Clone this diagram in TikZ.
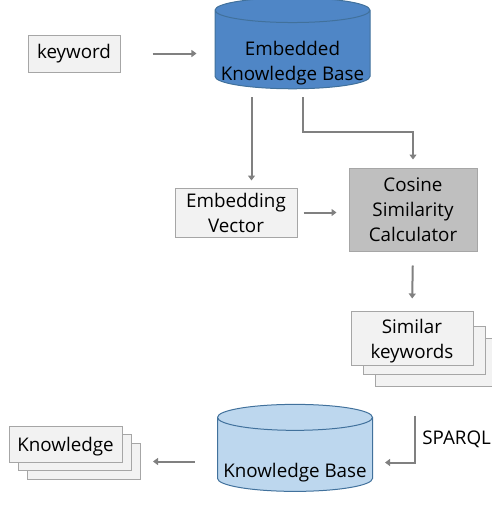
\documentclass[tikz,border=0pt]{standalone}
\usepackage{fontspec}
\setmainfont{Open Sans}
\usetikzlibrary{arrows.meta,shapes.geometric}

\definecolor{boxfill}{HTML}{F2F2F2}
\definecolor{boxline}{HTML}{A6A6A6}
\definecolor{calcfill}{HTML}{BFBFBF}
\definecolor{arrowgray}{HTML}{808080}
\definecolor{ekbfill}{HTML}{4F86C6}
\definecolor{kbfill}{HTML}{BDD7EE}
\definecolor{dbline}{HTML}{41719C}

\begin{document}
\begin{tikzpicture}[x=1pt, y=-1pt,
        font=\fontsize{18.8}{25}\selectfont,
        box/.style={rectangle, draw=boxline, fill=boxfill, line width=1pt, align=center, inner sep=2pt},
        db/.style={cylinder, shape border rotate=90, draw=dbline, line width=1pt, minimum width=155pt},
        arr/.style={draw=arrowgray, line width=2pt, -{Triangle[width=7pt,length=5pt]}}]
    \useasboundingbox (0,0) rectangle (491,507);
    % top row
    \node[box, minimum width=92pt, minimum height=37pt] (kw) at (74,53.5) {keyword};
    \node[db, fill=ekbfill, aspect=0.165, minimum height=91pt] (ekb) at (292.5,51.5)
        {\raisebox{-11pt}[\height][\depth]{\begin{tabular}{@{}c@{}}Embedded\\Knowledge Base\end{tabular}}};
    % middle row
    \node[box, minimum width=122pt, minimum height=49pt] (ev) at (236,212.5) {Embedding\\Vector};
    \node[box, fill=calcfill, minimum width=128pt, minimum height=83pt] (csc) at (413,209.5) {Cosine\\Similarity\\Calculator};
    % similar keywords (stacked)
    \node[box, minimum width=122pt, minimum height=48pt] (sim3) at (436,362) {};
    \node[box, minimum width=122pt, minimum height=48pt] (sim2) at (424,350) {};
    \node[box, minimum width=122pt, minimum height=48pt] (sim) at (412,338)
        {\raisebox{-3pt}[\height][\depth]{\begin{tabular}{@{}c@{}}Similar\\keywords\end{tabular}}};
    % bottom row
    \node[db, fill=kbfill, aspect=0.173, minimum height=87pt] (kb) at (295,456.5)
        {\raisebox{-16pt}[\height][\depth]{Knowledge Base}};
    \node[box, minimum width=113pt, minimum height=36pt] (know3) at (84,461.5) {};
    \node[box, minimum width=113pt, minimum height=36pt] (know2) at (74.5,452.5) {};
    \node[box, minimum width=113pt, minimum height=36pt] (know) at (65.5,444)
        {\raisebox{-3pt}[\height][\depth]{Knowledge}};
    % arrows
    \draw[arr, shorten <=32pt, shorten >=18pt] (kw.east) -- (kw.east -| ekb.west);
    \draw[arr] ([xshift=-41pt,yshift=-8pt]ekb.south) -- ([xshift=-41pt,yshift=7pt]ekb.south |- ev.north);
    \draw[arr] ([xshift=10pt,yshift=-8pt]ekb.south) |- ([yshift=36pt]csc.north) -- ([yshift=8pt]csc.north);
    \draw[arr, shorten <=6pt, shorten >=12pt] (ev.east) -- (ev.east -| csc.west);
    \draw[arr, shorten <=14pt, shorten >=12pt] (csc.south) -- (sim.north);
    \draw[arr] ([xshift=3pt,yshift=-50pt]sim.south) |- ([xshift=12pt,yshift=-6pt]kb.east)
        node[pos=0.25, right=3pt, text=black] {SPARQL};
    \draw[arr, shorten <=22pt, shorten >=12pt] (kb.west |- know3.east) -- (know3.east);
\end{tikzpicture}
\end{document}
